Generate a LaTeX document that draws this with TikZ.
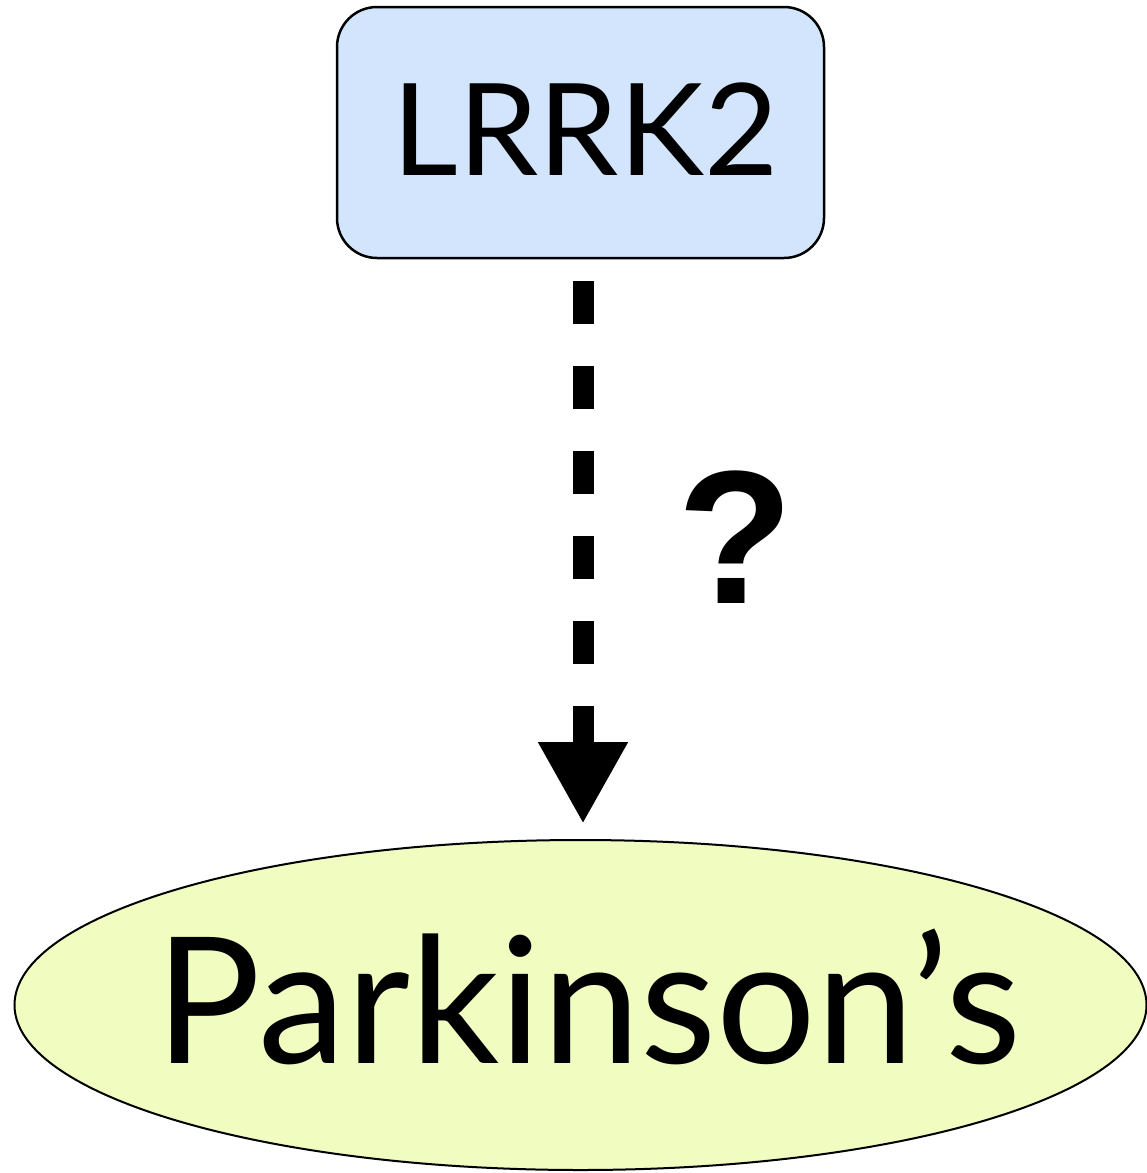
\documentclass[tikz,border=0pt]{standalone}
\usepackage{fontspec}
\setmainfont{Lato}
\newfontfamily\qfont{Liberation Sans}
\usetikzlibrary{shapes.geometric, arrows.meta}
\definecolor{genefill}{HTML}{D2E5FC}
\definecolor{diseasefill}{HTML}{F0FCC0}

\begin{document}
\begin{tikzpicture}[x=1pt, y=-1pt]
    \useasboundingbox (0,0) rectangle (1147,1173);

    % gene on top, disease below
    \node[rectangle, rounded corners=40pt, draw, line width=2.5pt, fill=genefill, minimum width=487pt, minimum height=251pt, inner sep=0pt, text height=85pt, text depth=0pt, font=\fontsize{128}{128}\selectfont] (lrrk) at (580.5, 132.5) {\makebox[0pt]{\hspace*{10pt}LRRK2}};
    \node[ellipse, draw, line width=2pt, fill=diseasefill, minimum width=1132pt, minimum height=330pt, inner sep=0pt, text height=116pt, text depth=0pt, font=\fontsize{176}{176}\selectfont] (pd) at (580.5, 1005) {\makebox[0pt]{\hspace*{16pt}Parkinson’s}};
    \node[inner sep=0pt, font=\qfont\bfseries\fontsize{190}{190}\selectfont] (q) at (735.5, 537) {?};

    \draw[transform canvas={xshift=2.5pt}, line width=21pt, dash pattern=on 43pt off 42pt, -{Triangle[length=82pt, width=84pt]}, shorten <=22pt, shorten >=15pt] (lrrk) -- (pd);
\end{tikzpicture}
\end{document}
